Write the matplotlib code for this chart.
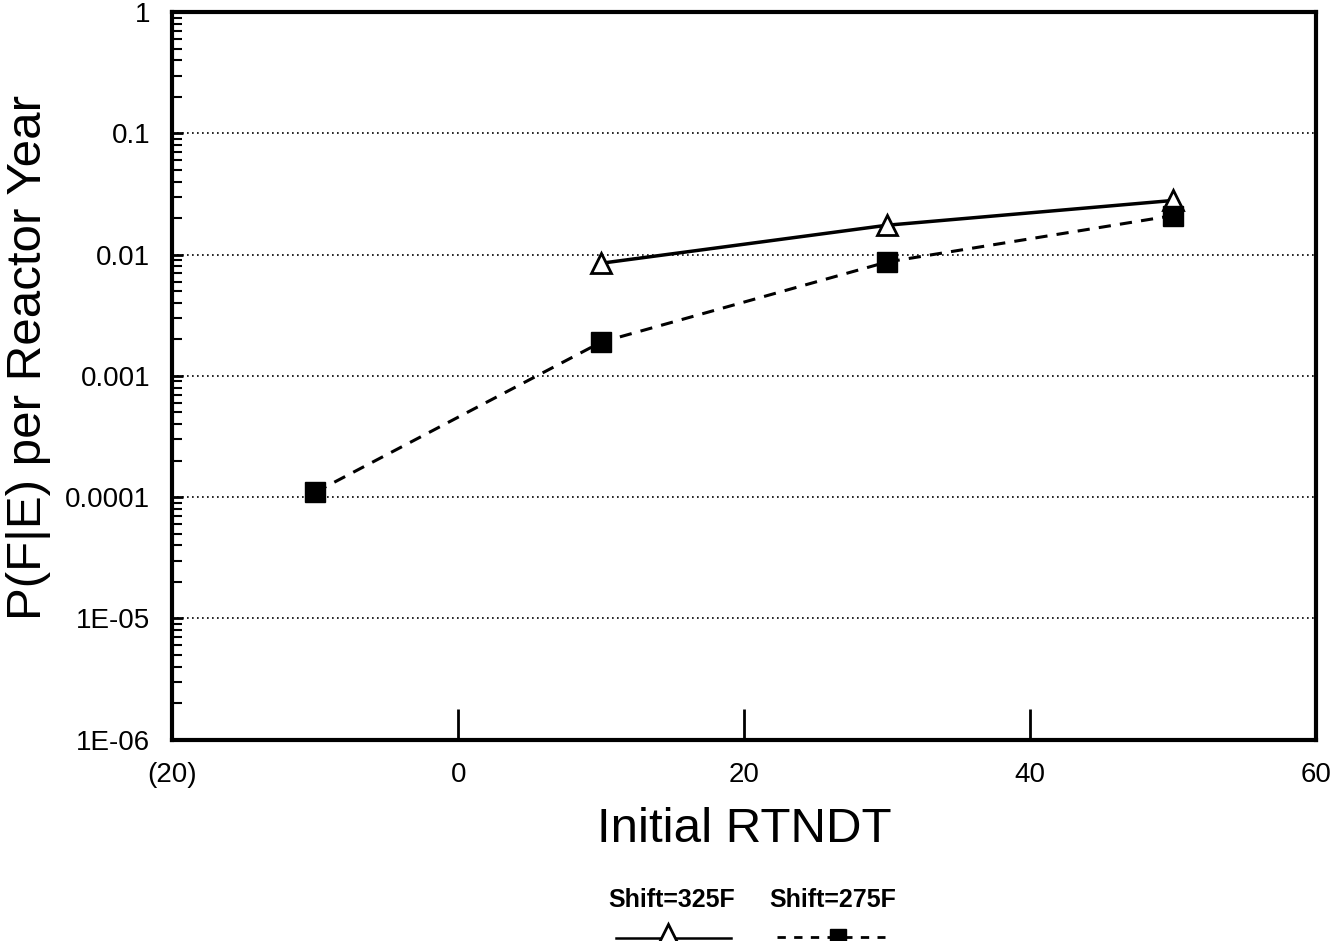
import numpy as np
import matplotlib.pyplot as plt
from matplotlib.lines import Line2D
from matplotlib.ticker import FixedLocator, LogLocator, NullFormatter

plt.rcParams['font.family'] = ['Liberation Sans', 'DejaVu Sans']

# data
rtndt_325 = [10, 30, 50]
pfe_325 = [0.0085, 0.0175, 0.028]
rtndt_275 = [-10, 10, 30, 50]
pfe_275 = [0.00011, 0.0019, 0.0087, 0.021]

xticks = [-20, 0, 20, 40, 60]
xtick_labels = ["(20)", "0", "20", "40", "60"]
yticks = [1e-6, 1e-5, 1e-4, 1e-3, 1e-2, 1e-1, 1]
ytick_labels = ["1E-06", "1E-05", "0.0001", "0.001", "0.01", "0.1", "1"]

fig = plt.figure(figsize=(13.37, 9.41), dpi=100)
ax = fig.add_axes([0.129, 0.214, 0.855, 0.773])

ax.plot(rtndt_325, pfe_325, color="black", lw=2.5, marker="^", ms=15,
        mfc="white", mec="black", mew=2, zorder=3)
ax.plot(rtndt_275, pfe_275, color="black", lw=2.2, ls=(0, (4, 3)), marker="s",
        ms=14, mfc="black", mec="black", zorder=3)

ax.set_yscale("log")
ax.set_xlim(-20, 60)
ax.set_ylim(1e-6, 1)

ax.set_xticks(xticks)
ax.set_xticklabels(xtick_labels, fontsize=20)
ax.yaxis.set_major_locator(FixedLocator(yticks))
ax.set_yticklabels(ytick_labels, fontsize=20)
ax.yaxis.set_minor_locator(LogLocator(base=10, subs=np.arange(2, 10)))
ax.yaxis.set_minor_formatter(NullFormatter())

ax.tick_params(axis="x", direction="in", length=22, width=2, pad=16)
ax.tick_params(axis="y", which="major", direction="in", length=8, width=2, pad=16)
ax.tick_params(axis="y", which="minor", direction="in", length=7, width=1.5)
ax.tick_params(top=False, right=False)

for s in ax.spines.values():
    s.set_linewidth(3)

ax.grid(axis="y", which="major", color="black", ls=(0, (1, 2)), lw=1.2)

ax.set_xlabel("Initial RTNDT", fontsize=35.5, labelpad=14)
ax.set_ylabel("P(F|E) per Reactor Year", fontsize=35.5)
ax.yaxis.set_label_coords(-0.106, 0.526)

# legend: label above each handle
fig.text(0.5026, 0.044, "Shift=325F", ha="center", va="center", fontsize=18,
         fontweight="bold")
fig.text(0.623, 0.044, "Shift=275F", ha="center", va="center", fontsize=18,
         fontweight="bold")
fig.add_artist(Line2D([0.4607, 0.5467], [0.003, 0.003], color="black", lw=1.8,
                      transform=fig.transFigure))
fig.add_artist(Line2D([0.4996], [0.007], ls="none", marker="^", ms=14,
                      mfc="white", mec="black", mew=2,
                      transform=fig.transFigure))
fig.add_artist(Line2D([0.5811, 0.6268, 0.6619], [0.004, 0.004, 0.004],
                      color="black", lw=2, ls=(0, (3, 3)), marker="s",
                      markevery=[1], ms=12, mfc="black",
                      transform=fig.transFigure))

fig.savefig("out.png", dpi=100)
